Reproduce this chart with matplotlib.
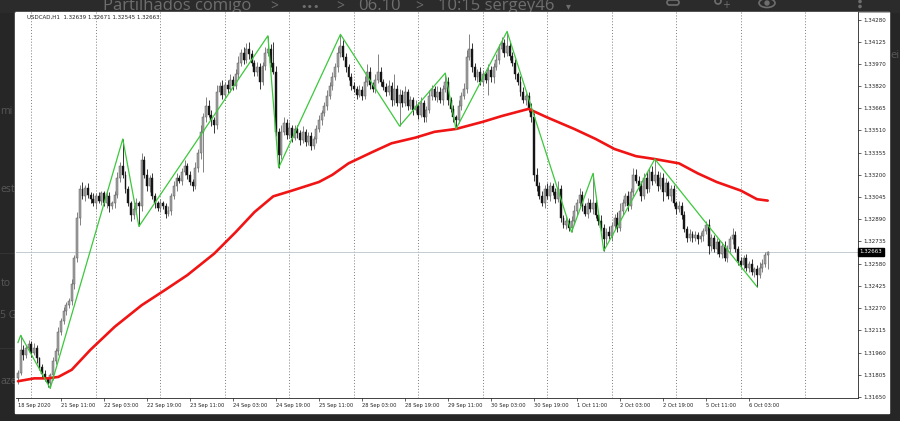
import numpy as np
import matplotlib.pyplot as plt
from matplotlib.patches import Rectangle, Ellipse, Circle, FancyBboxPatch

# USDCAD H1 closes (one row = 20 bars)
closes = [
    1.3182, 1.3198, 1.3194, 1.3199, 1.3202, 1.3196, 1.3199, 1.3192, 1.3186, 1.3181, 1.3178, 1.3175, 1.3180, 1.3190, 1.3197, 1.3210, 1.3218, 1.3225, 1.3229, 1.3232,
    1.3244, 1.3262, 1.3290, 1.3310, 1.3305, 1.3311, 1.3306, 1.3303, 1.3300, 1.3305, 1.3302, 1.3307, 1.3300, 1.3305, 1.3298, 1.3300, 1.3306, 1.3318, 1.3326, 1.3320,
    1.3310, 1.3300, 1.3292, 1.3296, 1.3300, 1.3298, 1.3330, 1.3320, 1.3312, 1.3318, 1.3305, 1.3300, 1.3297, 1.3300, 1.3298, 1.3293, 1.3295, 1.3305, 1.3312, 1.3318,
    1.3316, 1.3322, 1.3326, 1.3320, 1.3315, 1.3312, 1.3325, 1.3335, 1.3350, 1.3360, 1.3368, 1.3362, 1.3358, 1.3355, 1.3378, 1.3382, 1.3376, 1.3383, 1.3380, 1.3386,
    1.3382, 1.3390, 1.3398, 1.3405, 1.3400, 1.3408, 1.3404, 1.3398, 1.3392, 1.3395, 1.3385, 1.3396, 1.3405, 1.3408, 1.3398, 1.3392, 1.3350, 1.3334, 1.3350, 1.3356,
    1.3348, 1.3353, 1.3346, 1.3352, 1.3349, 1.3344, 1.3350, 1.3343, 1.3347, 1.3340, 1.3345, 1.3352, 1.3358, 1.3363, 1.3368, 1.3375, 1.3382, 1.3388, 1.3395, 1.3405,
    1.3410, 1.3402, 1.3395, 1.3388, 1.3382, 1.3380, 1.3376, 1.3379, 1.3375, 1.3385, 1.3392, 1.3383, 1.3380, 1.3386, 1.3392, 1.3385, 1.3381, 1.3378, 1.3382, 1.3372,
    1.3380, 1.3370, 1.3376, 1.3370, 1.3378, 1.3368, 1.3372, 1.3365, 1.3368, 1.3362, 1.3370, 1.3360, 1.3365, 1.3375, 1.3380, 1.3374, 1.3378, 1.3372, 1.3380, 1.3385,
    1.3372, 1.3366, 1.3360, 1.3358, 1.3368, 1.3375, 1.3380, 1.3402, 1.3408, 1.3395, 1.3388, 1.3392, 1.3385, 1.3390, 1.3386, 1.3393, 1.3388, 1.3395, 1.3400, 1.3408,
    1.3412, 1.3405, 1.3410, 1.3403, 1.3398, 1.3390, 1.3385, 1.3378, 1.3372, 1.3375, 1.3366, 1.3360, 1.3320, 1.3312, 1.3305, 1.3300, 1.3310, 1.3305, 1.3312, 1.3308,
    1.3303, 1.3310, 1.3290, 1.3285, 1.3288, 1.3283, 1.3288, 1.3295, 1.3300, 1.3306, 1.3298, 1.3293, 1.3300, 1.3296, 1.3300, 1.3292, 1.3288, 1.3283, 1.3275, 1.3280,
    1.3277, 1.3284, 1.3290, 1.3283, 1.3295, 1.3300, 1.3305, 1.3298, 1.3308, 1.3320, 1.3316, 1.3312, 1.3305, 1.3318, 1.3310, 1.3322, 1.3316, 1.3320, 1.3312, 1.3318,
    1.3308, 1.3314, 1.3305, 1.3310, 1.3300, 1.3296, 1.3298, 1.3292, 1.3282, 1.3276, 1.3279, 1.3276, 1.3278, 1.3275, 1.3277, 1.3281, 1.3285, 1.3270, 1.3276, 1.3268,
    1.3273, 1.3265, 1.3270, 1.3262, 1.3268, 1.3275, 1.3278, 1.3268, 1.3260, 1.3257, 1.3262, 1.3255, 1.3258, 1.3252, 1.3254, 1.3250, 1.3255, 1.3258, 1.32639, 1.32663,
]
first_open = 1.3178

# wick lengths above / below the body, in pips
wick_up = [
    2, 10, 3, 2, 3, 2, 4, 2, 1, 2, 3, 1, 2, 3, 2, 4, 2, 3, 2, 2,
    3, 2, 4, 3, 5, 2, 3, 2, 4, 2, 3, 2, 2, 4, 3, 2, 3, 4, 3, 19,
    3, 2, 2, 3, 4, 2, 5, 3, 4, 2, 3, 2, 2, 3, 2, 2, 3, 2, 4, 3,
    2, 3, 4, 2, 3, 2, 4, 3, 5, 3, 6, 4, 3, 2, 5, 3, 4, 2, 3, 4,
    3, 4, 5, 3, 4, 4, 5, 3, 2, 4, 3, 3, 4, 9, 3, 15, 4, 3, 5, 4,
    3, 4, 2, 3, 3, 2, 4, 2, 3, 3, 2, 3, 4, 2, 3, 4, 3, 4, 3, 4,
    8, 4, 3, 2, 3, 3, 2, 4, 3, 4, 5, 3, 2, 4, 12, 3, 2, 3, 4, 3,
    10, 3, 4, 3, 4, 2, 3, 2, 4, 3, 4, 2, 3, 4, 3, 2, 4, 3, 3, 6,
    3, 2, 3, 2, 4, 3, 4, 5, 10, 4, 3, 2, 3, 3, 2, 4, 3, 3, 4, 3,
    4, 3, 10, 3, 3, 3, 2, 4, 3, 2, 3, 4, 3, 5, 3, 4, 3, 4, 3, 2,
    3, 6, 3, 2, 3, 2, 3, 4, 3, 5, 3, 2, 4, 3, 21, 3, 2, 4, 3, 3,
    4, 3, 3, 4, 5, 3, 2, 4, 3, 5, 4, 3, 4, 3, 4, 3, 4, 11, 3, 4,
    3, 4, 2, 3, 3, 2, 4, 3, 3, 2, 3, 2, 3, 2, 3, 2, 3, 4, 3, 2,
    3, 2, 3, 4, 3, 2, 5, 3, 2, 3, 2, 3, 2, 3, 2, 3, 4, 3, 2, 0.8,
]
wick_dn = [
    4, 2, 3, 2, 2, 3, 2, 3, 2, 3, 2, 3, 4, 3, 2, 3, 2, 2, 3, 2,
    3, 4, 3, 5, 2, 3, 2, 3, 2, 4, 2, 3, 2, 3, 4, 2, 3, 2, 3, 2,
    3, 2, 4, 3, 2, 14, 3, 2, 3, 4, 2, 3, 2, 3, 2, 3, 2, 3, 2, 3,
    2, 3, 2, 3, 2, 3, 2, 3, 4, 28, 3, 2, 4, 6, 3, 2, 3, 2, 3, 2,
    3, 2, 3, 2, 3, 2, 3, 2, 3, 3, 5, 2, 3, 2, 3, 2, 3, 9, 3, 2,
    3, 2, 3, 2, 3, 3, 2, 3, 2, 3, 2, 3, 2, 3, 2, 3, 2, 3, 2, 3,
    3, 2, 3, 2, 3, 2, 3, 2, 3, 2, 3, 3, 2, 3, 2, 3, 2, 3, 2, 4,
    3, 2, 16, 3, 2, 3, 2, 3, 2, 3, 2, 3, 3, 2, 3, 2, 3, 2, 3, 2,
    3, 2, 3, 6, 2, 3, 2, 3, 2, 3, 2, 3, 2, 3, 2, 10, 3, 4, 2, 3,
    2, 3, 2, 3, 2, 3, 2, 3, 2, 3, 2, 3, 4, 3, 2, 2, 3, 2, 3, 2,
    3, 2, 3, 2, 3, 2, 3, 2, 3, 2, 3, 2, 3, 2, 3, 2, 3, 2, 8, 3,
    2, 3, 2, 3, 2, 3, 2, 3, 2, 3, 2, 3, 3, 2, 3, 2, 3, 2, 3, 2,
    6, 3, 2, 3, 2, 3, 2, 3, 2, 3, 2, 3, 2, 3, 2, 3, 2, 5, 3, 2,
    3, 2, 3, 2, 3, 2, 3, 2, 3, 2, 3, 2, 3, 2, 3, 8, 2, 3, 2, 9.4,
]

# ZigZag turning points (bar index, price)
zz_bar = [0, 1, 12, 39, 45, 93, 97, 120, 142, 159, 163, 182, 206, 214, 218, 237, 275]
zz_price = [1.3203, 1.3208, 1.3171, 1.3345, 1.3284, 1.3417, 1.3325, 1.3418, 1.3354,
            1.3391, 1.3352, 1.3420, 1.3280, 1.3321, 1.3267, 1.3331, 1.3242]

# moving average (red), read at these bars
ma_bar = [0, 6, 11, 15, 20, 27, 36, 46, 55, 63, 73, 81, 88, 95, 102, 112, 117, 123, 132,
          139, 148, 155, 163, 173, 180, 190, 197, 207, 215, 222, 230, 237, 246, 253, 260,
          269, 275, 279]
ma_price = [1.3176, 1.3178, 1.3178, 1.3179, 1.3184, 1.3198, 1.3214, 1.3229, 1.3240, 1.3250,
            1.3265, 1.3280, 1.3294, 1.3305, 1.3309, 1.3315, 1.3320, 1.3328, 1.3336, 1.3342,
            1.3346, 1.3350, 1.3352, 1.3357, 1.3361, 1.3366, 1.3360, 1.3352, 1.3345, 1.3338,
            1.3333, 1.3331, 1.3328, 1.3321, 1.3315, 1.3309, 1.3303, 1.3302]

ytick_vals = [1.34280, 1.34125, 1.33970, 1.33820, 1.33665, 1.33510, 1.33355, 1.33200, 1.33045,
              1.32890, 1.32735, 1.32580, 1.32425, 1.32270, 1.32115, 1.31960, 1.31805, 1.31650]
xtick_labels = ["18 Sep 2020", "21 Sep 11:00", "22 Sep 03:00", "22 Sep 19:00", "23 Sep 11:00",
                "24 Sep 03:00", "24 Sep 19:00", "25 Sep 11:00", "28 Sep 03:00", "28 Sep 19:00",
                "29 Sep 11:00", "30 Sep 03:00", "30 Sep 19:00", "1 Oct 11:00", "2 Oct 03:00",
                "2 Oct 19:00", "5 Oct 11:00", "6 Oct 03:00"]
bars_per_label = 16
day_start_bars = [5, 29, 53, 77, 101, 125, 149, 173, 197, 221, 245, 269, 293]
last_price = 1.32663
header = "USDCAD,H1  1.32639 1.32671 1.32545 1.32663"

# build ohlc
closes = np.array(closes)
opens = np.concatenate([[first_open], closes[:-1]])
highs = np.maximum(opens, closes) + np.array(wick_up) * 1e-4
lows = np.minimum(opens, closes) - np.array(wick_dn) * 1e-4
x = np.arange(len(closes))
up = closes >= opens

fig = plt.figure(figsize=(9, 4.21), dpi=100, facecolor='#262626')

# --- screenshot surroundings, in pixel coords ---
bg = fig.add_axes([0, 0, 1, 1])
bg.set_xlim(0, 900)
bg.set_ylim(421, 0)
bg.axis('off')
bg.add_patch(Rectangle((0, 0), 900, 421, color='#262626', zorder=0))
bg.add_patch(Rectangle((0, 0), 900, 12, color='#2b2b2b', zorder=0))

top_c = '#6e6e6e'
bg.text(103, 10.5, 'Partilhados comigo', fontsize=12, family='Open Sans', color=top_c, va='baseline')
for xx in [270, 336, 415]:
    bg.text(xx, 10.5, '>', fontsize=10, family='Open Sans', color=top_c, va='baseline')
bg.text(300, 10.5, '•••', fontsize=8, family='DejaVu Sans', color=top_c, va='baseline')
bg.text(358, 10.5, '06.10', fontsize=12, family='Open Sans', color=top_c, va='baseline')
bg.text(438, 10.5, '10:15 sergey46', fontsize=12, family='Open Sans', color=top_c, va='baseline')
bg.text(566, 9, '▾', fontsize=7, family='DejaVu Sans', color=top_c, va='baseline')
bg.add_patch(FancyBboxPatch((667, 0), 12, 5, boxstyle='round,pad=0,rounding_size=2.5',
                            fill=False, ec=top_c, lw=1.2))
bg.add_patch(Circle((718, 1), 3, fill=False, ec=top_c, lw=1.2))
bg.text(722, 5, '+', fontsize=7, color=top_c, va='center')
bg.add_patch(Ellipse((767, 3), 16, 9, fill=False, ec=top_c, lw=1.2))
bg.add_patch(Circle((767, 3), 2, color=top_c))
bg.add_patch(Circle((860, 1.5), 1.1, color=top_c))
bg.add_patch(Circle((860, 6.5), 1.1, color=top_c))

# fragments of the page behind the chart window
side_c = '#575757'
for yy, word in [(111, 'mi'), (190, 'est'), (283, 'to'), (316, '5 G'), (381, 'aze')]:
    bg.text(0.5, yy, word, fontsize=7.5, family='Open Sans', color=side_c, ha='left', va='center')
bg.plot([0, 15], [253, 253], color='#333333', lw=0.8)
bg.plot([0, 15], [348, 348], color='#333333', lw=0.8)
bg.text(890, 56, 'ei', fontsize=8, family='Open Sans', color=side_c, ha='left', va='center')

# white chart window
bg.add_patch(Rectangle((15, 12), 874, 401, color='white', zorder=5))
bg.plot([15, 889], [12, 12], color='#9a9a9a', lw=0.6, zorder=6)

# --- chart ---
ax = fig.add_axes([16 / 900, 1 - 398 / 421, (858 - 16) / 900, (398 - 12) / 421])
ax.set_facecolor('white')
ax.set_xlim(-0.74, 312.6)
ax.set_ylim(1.31643, 1.34336)

for b in day_start_bars:
    ax.axvline(b, color='#7c7c7c', lw=0.7, ls=(0, (1, 2)), zorder=0)
ax.axhline(last_price, color='#b9c3cc', lw=0.6, zorder=1)

wick_cols = np.where(up, '#6e6e6e', '#151515')
ax.vlines(x, lows, highs, colors=wick_cols, lw=0.6, zorder=2)
ax.bar(x[up], np.maximum((closes - opens)[up], 0.00002), bottom=opens[up], width=0.72,
       color='#a2a2a2', edgecolor='#5e5e5e', lw=0.35, zorder=3)
ax.bar(x[~up], (opens - closes)[~up], bottom=closes[~up], width=0.72,
       color='#151515', edgecolor='#151515', lw=0.3, zorder=3)

ax.plot(ma_bar, ma_price, color='#f01414', lw=1.9, zorder=4, solid_capstyle='round')
ax.plot(zz_bar, zz_price, color='#3cc83c', lw=0.9, zorder=5)

ax.yaxis.tick_right()
ax.set_yticks(ytick_vals, [f'{v:.5f}' for v in ytick_vals])
ax.tick_params(axis='y', length=2, width=0.5, pad=1.5, labelsize=4, colors='#222222')
ax.set_xticks(np.arange(len(xtick_labels)) * bars_per_label, xtick_labels)
for lab in ax.get_xticklabels():
    lab.set_ha('left')
ax.tick_params(axis='x', length=2, width=0.5, pad=1.5, labelsize=3.7, colors='#222222')

for s in ['left', 'top']:
    ax.spines[s].set_visible(False)
for s in ['right', 'bottom']:
    ax.spines[s].set_color('#222222')
    ax.spines[s].set_linewidth(0.6)

ax.text((27 - 16) / 842, 1 - 5 / 386, header, transform=ax.transAxes, fontsize=4,
        color='#222222', va='center', ha='left')
ax.text(1.002, last_price, f'{last_price:.5f}', transform=ax.get_yaxis_transform(),
        fontsize=4, color='white', va='center', ha='left', zorder=10, clip_on=False,
        bbox=dict(boxstyle='square,pad=0.25', fc='black', ec='black'))

fig.savefig('out.png', dpi=100, facecolor=fig.get_facecolor())
